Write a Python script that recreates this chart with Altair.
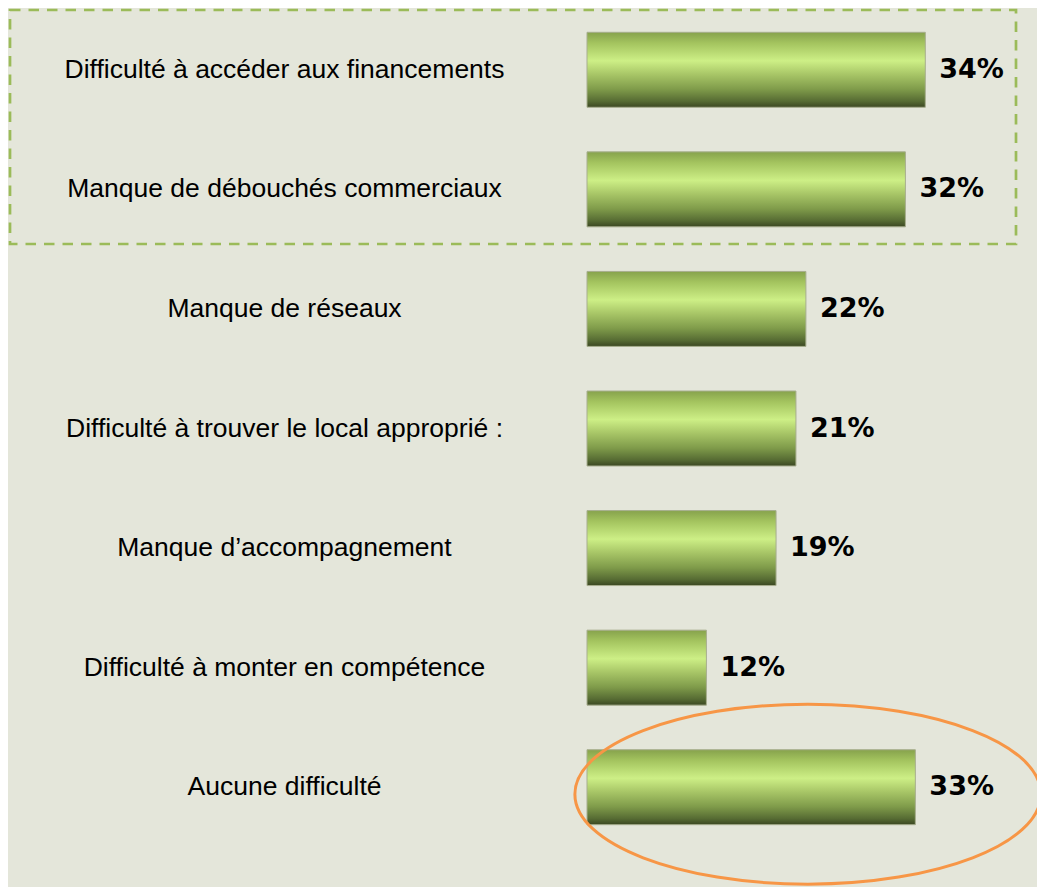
import altair as alt
import pandas as pd

categories = [
    "Difficulté à accéder aux financements",
    "Manque de débouchés commerciaux",
    "Manque de réseaux",
    "Difficulté à trouver le local approprié :",
    "Manque d’accompagnement",
    "Difficulté à monter en compétence",
    "Aucune difficulté",
]
values = [34, 32, 22, 21, 19, 12, 33]
value_labels = ["34%", "32%", "22%", "21%", "19%", "12%", "33%"]

df = pd.DataFrame({"cat": categories, "value": values, "label": value_labels})

BG = "#E4E6DA"
x_scale = alt.Scale(domain=[0, 40], nice=False, zero=True)
y_scale = alt.Scale(paddingInner=0.373, paddingOuter=0.1865)

gradient = alt.LinearGradient(
    gradient="linear",
    x1=0, y1=0, x2=0, y2=1,
    stops=[
        alt.GradientStop(color="#86A24C", offset=0),
        alt.GradientStop(color="#A3C35E", offset=0.14),
        alt.GradientStop(color="#CDEF86", offset=0.38),
        alt.GradientStop(color="#A8C667", offset=0.56),
        alt.GradientStop(color="#7F9B4A", offset=0.76),
        alt.GradientStop(color="#566B33", offset=0.92),
        alt.GradientStop(color="#3B4722", offset=1),
    ],
)

y_enc = alt.Y(
    "cat:N",
    sort=categories,
    scale=y_scale,
    axis=alt.Axis(
        title=None,
        domain=False,
        ticks=False,
        tickSize=0,
        labelAlign="center",
        labelBaseline="middle",
        labelPadding=303,
        labelFont="Liberation Sans",
        labelFontSize=26.5,
        labelColor="#000000",
        labelLimit=700,
    ),
)

base = alt.Chart(df).encode(y=y_enc)

bars = base.mark_bar(color=gradient, stroke="#A7AE8E", strokeWidth=1).encode(
    x=alt.X("value:Q", scale=x_scale, axis=None)
)

texts = base.mark_text(
    align="left",
    baseline="middle",
    dx=14,
    font="DejaVu Sans",
    fontWeight="bold",
    fontSize=27,
    color="#000000",
).encode(x=alt.X("value:Q", scale=x_scale, axis=None), text="label:N")

box = alt.Chart(pd.DataFrame({"a": [0]})).mark_rect(
    fillOpacity=0, stroke="#9BBB59", strokeWidth=2.7, strokeDash=[10.5, 8]
).encode(
    x=alt.value(-577), x2=alt.value(429), y=alt.value(0), y2=alt.value(234)
)

ellipse_path = (
    "M-1,0C-1,-0.2132,-0.5523,-0.386,0,-0.386"
    "C0.5523,-0.386,1,-0.2132,1,0"
    "C1,0.2132,0.5523,0.386,0,0.386"
    "C-0.5523,0.386,-1,0.2132,-1,0Z"
)
ellipse = alt.Chart(
    pd.DataFrame({"cat": ["Aucune difficulté"], "cx": [22.2]})
).mark_point(
    shape=ellipse_path,
    size=217156,
    filled=False,
    stroke="#F79646",
    strokeWidth=3,
    opacity=1,
    yOffset=7,
).encode(
    x=alt.X("cx:Q", scale=x_scale, axis=None),
    y=alt.Y("cat:N", sort=categories, scale=y_scale),
)

chart = (
    alt.layer(bars, texts, box, ellipse)
    .properties(
        width=398,
        height=837,
        background=BG,
        autosize=alt.AutoSizeParams(type="none"),
        padding={"left": 579, "top": 2, "right": 52, "bottom": 40},
    )
    .configure_view(stroke=None)
)

chart.save("out.html", embed_options={"renderer": "svg", "actions": False})
